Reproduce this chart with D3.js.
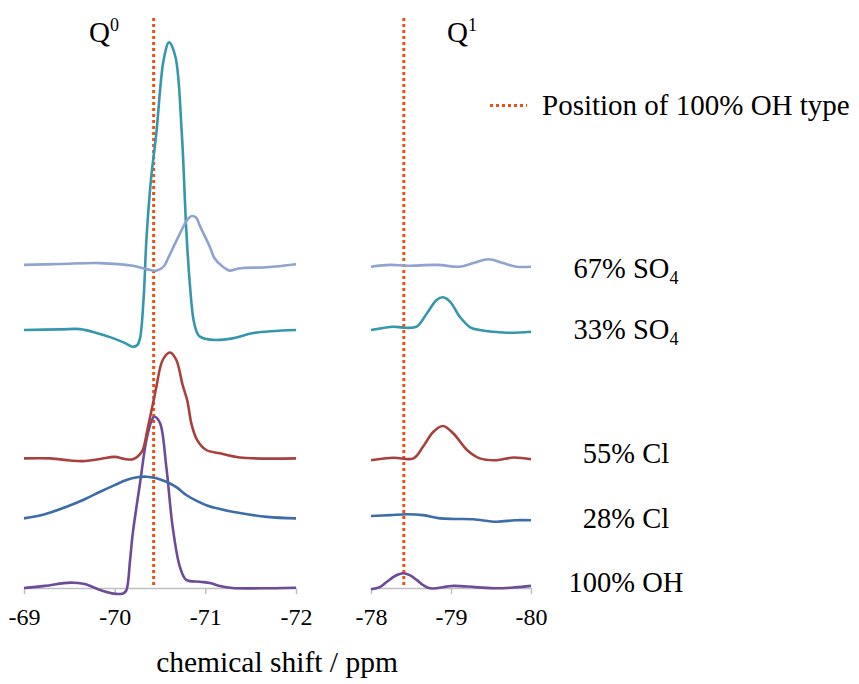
<!DOCTYPE html>
<html>
<head>
  <meta charset="utf-8">
  <title>29Si NMR Q0 / Q1</title>
  <script src="https://d3js.org/d3.v7.min.js"></script>
  <style>
    body { margin: 0; background: #fff; }
    .axis path, .axis line { stroke: #bfbfbf; stroke-width: 1.5; }
  </style>
</head>
<body>
<div id="chart"></div>
<script>
  // series, bottom to top
  var names = ['100% OH', '28% Cl', '55% Cl', '33% SO4', '67% SO4'];
  var colors = ['#6e4a99', '#3d6cab', '#a8403d', '#3597ae', '#8fa3cf'];
  var offsets = [0, 23.2, 43.2, 86, 107.7];   // vertical stacking (a.u.)

  var leftTicks = [-69, -70, -71, -72];
  var rightTicks = [-78, -79, -80];
  var ohQ0 = -70.43, ohQ1 = -78.41;   // position of 100% OH type

  // Q0 region, [ppm, intensity]
  var q0_OH = [[-69.00, 0], [-69.23, 0.7], [-69.51, 1.8], [-69.67, 1.3], [-69.84, -0.7], [-69.97, -1.8],
    [-70.06, -2.0], [-70.10, -1.7], [-70.13, -0.7], [-70.17, 9.3], [-70.20, 18.3], [-70.28, 35],
    [-70.35, 49.3], [-70.41, 56], [-70.44, 57.1], [-70.50, 55], [-70.57, 40.3], [-70.64, 20.3],
    [-70.72, 7], [-70.79, 2.7], [-70.94, 2.1], [-71.05, 1.7], [-71.16, 0.7], [-71.30, 0],
    [-71.60, -0.1], [-72.00, 0.1]];
  var q0_Cl28 = [[-69.00, 0], [-69.23, 1.4], [-69.47, 3.9], [-69.67, 6.4], [-69.84, 8.9], [-70.00, 11.1],
    [-70.13, 12.8], [-70.25, 13.7], [-70.35, 13.9], [-70.46, 13.4], [-70.57, 12.2], [-70.68, 10.4],
    [-70.79, 7.8], [-70.90, 5.9], [-71.01, 4.4], [-71.16, 3.1], [-71.30, 2.2], [-71.68, 0.5], [-72.00, 0]];
  var q0_Cl55 = [[-69.00, 0], [-69.29, 0], [-69.51, -0.7], [-69.65, -0.9], [-69.84, -0.2], [-70.00, 0.5],
    [-70.11, -0.2], [-70.20, -0.3], [-70.26, 0.8], [-70.31, 2.8], [-70.36, 9.4], [-70.43, 19.4],
    [-70.46, 23.9], [-70.53, 32.8], [-70.61, 35.3], [-70.68, 32.8], [-70.75, 24.4], [-70.80, 19.4],
    [-70.85, 11.1], [-70.91, 6.1], [-71.01, 2.8], [-71.16, 1.7], [-71.38, 0.3], [-72.00, 0]];
  var q0_SO33 = [[-69.00, 0], [-69.40, 0.2], [-69.62, 0.3], [-69.80, -1], [-69.98, -2.7], [-70.11, -4.3],
    [-70.20, -5.6], [-70.25, -5], [-70.28, -2.7], [-70.32, 11], [-70.35, 30], [-70.40, 50],
    [-70.46, 65.7], [-70.54, 90], [-70.60, 95.9], [-70.67, 91.1], [-70.74, 65.7], [-70.79, 33.3],
    [-70.83, 15], [-70.87, 3.3], [-70.91, -1], [-70.94, -2.2], [-71.08, -3.3], [-71.30, -2.8],
    [-71.53, -1], [-72.00, 0]];
  var q0_SO67 = [[-69.00, 0], [-69.40, 0.3], [-69.84, 0.6], [-70.20, -0.3], [-70.35, -1.4], [-70.46, -1.9],
    [-70.54, -0.6], [-70.59, 2.3], [-70.65, 6.1], [-70.74, 11.7], [-70.80, 15], [-70.85, 16.3],
    [-70.90, 15.7], [-70.94, 13], [-71.05, 6], [-71.10, 2.3], [-71.18, -0.3], [-71.27, -1.9],
    [-71.38, -1.1], [-71.68, -0.8], [-72.00, 0.2]];

  // Q1 region, [ppm, intensity]
  var q1_OH = [[-78.00, -0.4], [-78.11, 0.3], [-78.20, 2.1], [-78.30, 4], [-78.40, 4.9], [-78.49, 4.2],
    [-78.57, 2.7], [-78.65, 1], [-78.74, -0.1], [-79.03, 0.7], [-79.30, 0.3], [-79.57, -0.1],
    [-79.80, 0.2], [-80.00, 0.7]];
  var q1_Cl28 = [[-78.00, 0.8], [-78.24, 1.1], [-78.45, 1.4], [-78.65, 1.1], [-78.86, 0], [-79.05, -0.2],
    [-79.28, -0.3], [-79.57, -1.1], [-79.80, -0.6], [-80.00, -0.6]];
  var q1_Cl55 = [[-78.00, -0.6], [-78.28, 0.2], [-78.53, 0], [-78.65, 3.9], [-78.78, 8.9], [-78.90, 10.8],
    [-79.03, 8.3], [-79.20, 2.8], [-79.36, 0], [-79.57, -0.6], [-79.78, 0.3], [-80.00, -0.3]];
  var q1_SO33 = [[-78.00, 0], [-78.28, 1.1], [-78.40, 0.8], [-78.57, 1.1], [-78.70, 5.6], [-78.82, 10],
    [-78.90, 10.9], [-78.99, 9.4], [-79.11, 4.4], [-79.24, 0.9], [-79.36, 0], [-79.70, -0.9], [-80.00, -0.6]];
  var q1_SO67 = [[-78.00, -0.6], [-78.24, 0], [-78.45, -0.3], [-78.82, 0], [-79.11, -0.6], [-79.28, 0.6],
    [-79.47, 1.9], [-79.65, 0.6], [-79.82, -0.6], [-80.00, -0.6]];

  var q0 = [q0_OH, q0_Cl28, q0_Cl55, q0_SO33, q0_SO67];
  var q1 = [q1_OH, q1_Cl28, q1_Cl55, q1_SO33, q1_SO67];

  var FONT = '"Liberation Serif", "Times New Roman", serif';
  var W = 859, H = 684;
  var svg = d3.select('#chart').append('svg').attr('width', W).attr('height', H)
              .attr('font-family', FONT);

  var xL = d3.scaleLinear().domain([-69, -72]).range([24, 296]);
  var xR = d3.scaleLinear().domain([-78, -80]).range([371, 531]);
  var y = d3.scaleLinear().domain([0, 190]).range([588, 18]);

  function drawPanel(x, ticks, data, ohPos) {
    var ax = svg.append('g')
       .attr('class', 'axis')
       .attr('transform', 'translate(0,' + y(0) + ')')
       .call(d3.axisBottom(x).tickValues(ticks).tickSize(6).tickSizeOuter(0).tickPadding(14)
               .tickFormat(function(d) { return String(d); }));
    ax.attr('font-family', FONT).attr('font-size', 24);
    ax.selectAll('text').attr('fill', '#000');

    svg.append('line')
       .attr('x1', x(ohPos)).attr('x2', x(ohPos))
       .attr('y1', y(190)).attr('y2', y(0))
       .attr('stroke', '#f0500f').attr('stroke-width', 3)
       .attr('stroke-dasharray', '3,3');

    data.forEach(function(s, i) {
      var line = d3.line()
        .x(function(d) { return x(d[0]); })
        .y(function(d) { return y(d[1] + offsets[i]); })
        .curve(d3.curveCatmullRom.alpha(0.5));
      svg.append('path')
         .datum(s)
         .attr('d', line)
         .attr('fill', 'none')
         .attr('stroke', colors[i])
         .attr('stroke-width', 2.6)
         .attr('stroke-linejoin', 'round');
    });
  }

  drawPanel(xL, leftTicks, q0, ohQ0);
  drawPanel(xR, rightTicks, q1, ohQ1);

  // Q labels
  var qlab = [{t: 'Q', s: '0', x: 89}, {t: 'Q', s: '1', x: 447}];
  qlab.forEach(function(q) {
    var t = svg.append('text').attr('x', q.x).attr('y', 42).attr('font-size', 29);
    t.append('tspan').text(q.t);
    t.append('tspan').attr('dy', -11).attr('font-size', 18).text(q.s);
  });

  // series labels
  var labelY = [592, 528, 463, 339, 278];
  names.forEach(function(n, i) {
    var t = svg.append('text').attr('x', 626).attr('y', labelY[i])
               .attr('text-anchor', 'middle').attr('font-size', 28.5);
    if (n.indexOf('SO4') >= 0) {
      t.append('tspan').text(n.replace('SO4', 'SO'));
      t.append('tspan').attr('dy', 6).attr('font-size', 18).text('4');
    } else {
      t.text(n);
    }
  });

  // legend
  svg.append('line')
     .attr('x1', 490).attr('x2', 527).attr('y1', 105.5).attr('y2', 105.5)
     .attr('stroke', '#f0500f').attr('stroke-width', 3).attr('stroke-dasharray', '3,3');
  svg.append('text').attr('x', 542).attr('y', 115).attr('font-size', 29)
     .text('Position of 100% OH type');

  // axis title
  svg.append('text').attr('x', 277).attr('y', 672).attr('text-anchor', 'middle')
     .attr('font-size', 29.5).text('chemical shift / ppm');
</script>
</body>
</html>
